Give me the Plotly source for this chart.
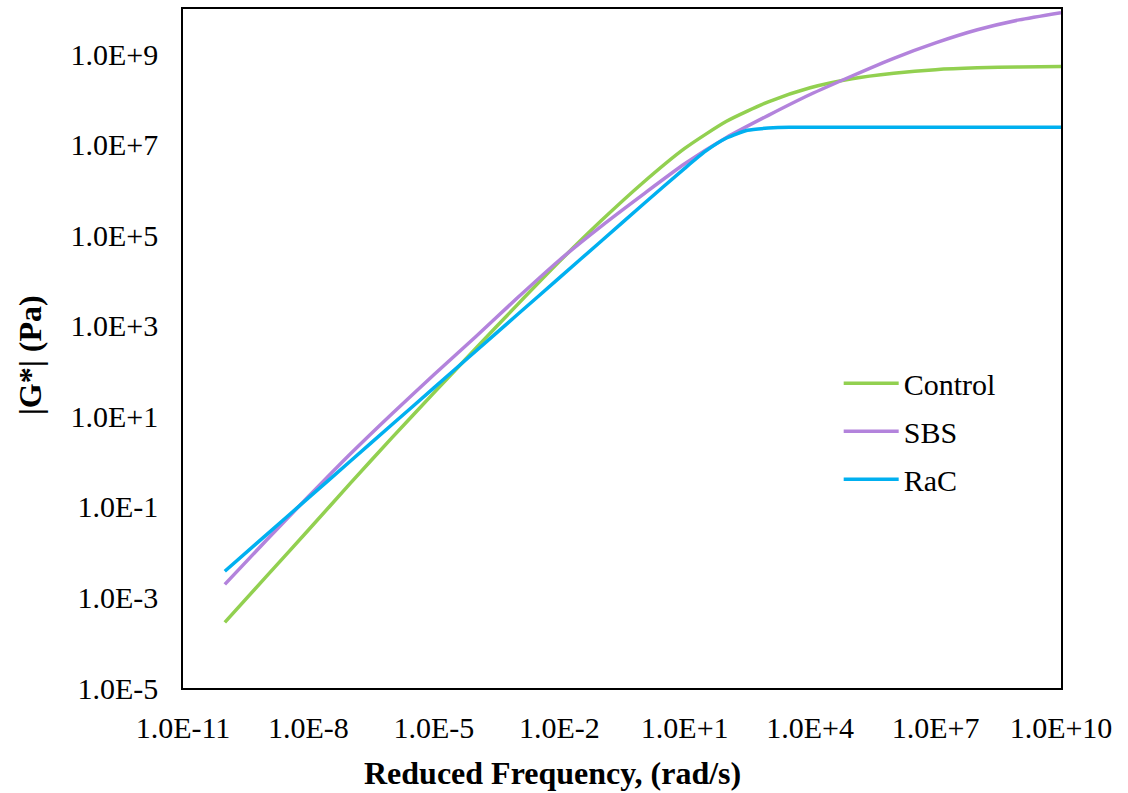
import plotly.graph_objects as go

# Reduced frequency (rad/s)
freq = [1e-10, 1e-9, 1e-8, 1e-7, 1e-6, 1e-5, 1e-4, 1e-3, 1e-2, 1e-1, 1e0,
        1e1, 1e2, 1e3, 1e4, 1e5, 1e6, 1e7, 1e8, 1e9, 1e10]
freq_rac = [1e-10, 1e-9, 1e-8, 1e-7, 1e-6, 1e-5, 1e-4, 1e-3, 1e-2, 1e-1, 1e0,
            1e1, 3.16e1, 1e2, 3.16e2, 1e3, 3.16e3, 1e4, 1e5, 1e6, 1e7, 1e8, 1e9, 1e10]

# |G*| (Pa)
g_control = [2.82e-4, 2.95e-3, 3.09e-2, 0.331, 3.39, 33.1, 316, 2951, 2.63e4, 2.09e5, 1.45e6,
             8.32e6, 3.31e7, 8.91e7, 1.82e8, 2.88e8, 3.80e8, 4.57e8, 5.01e8, 5.25e8, 5.37e8]
g_sbs = [1.95e-3, 1.86e-2, 0.170, 1.48, 11.5, 83.2, 575, 4169, 2.82e4, 1.58e5, 7.94e5,
         3.80e6, 1.45e7, 4.47e7, 1.29e8, 3.31e8, 8.13e8, 1.78e9, 3.47e9, 5.75e9, 8.32e9]
g_rac = [3.80e-3, 2.45e-2, 0.158, 1.02, 6.61, 42.7, 275, 1778, 1.15e4, 7.41e4, 4.79e5,
         3.02e6, 7.24e6, 1.41e7, 2.09e7, 2.34e7, 2.45e7, 2.45e7, 2.45e7, 2.45e7, 2.45e7,
         2.45e7, 2.45e7, 2.45e7]

x_tickvals = [1e-11, 1e-8, 1e-5, 1e-2, 1e1, 1e4, 1e7, 1e10]
x_ticktext = ["1.0E-11", "1.0E-8", "1.0E-5", "1.0E-2", "1.0E+1", "1.0E+4", "1.0E+7", "1.0E+10"]
y_tickvals = [1e-5, 1e-3, 1e-1, 1e1, 1e3, 1e5, 1e7, 1e9]
y_ticktext = ["1.0E-5", "1.0E-3", "1.0E-1", "1.0E+1", "1.0E+3", "1.0E+5", "1.0E+7", "1.0E+9"]

FONT = "Liberation Serif, Times New Roman, serif"

fig = go.Figure()
fig.add_trace(go.Scatter(x=freq, y=g_control, mode="lines", name="Control", legendgroup="a",
                         line=dict(color="#92D050", width=3.5, shape="spline", smoothing=0.6)))
fig.add_trace(go.Scatter(x=freq, y=g_sbs, mode="lines", name="SBS", legendgroup="b",
                         line=dict(color="#B383DC", width=3.5, shape="spline", smoothing=0.6)))
fig.add_trace(go.Scatter(x=freq_rac, y=g_rac, mode="lines", name="RaC", legendgroup="c",
                         line=dict(color="#00B0F0", width=3.5, shape="spline", smoothing=0.6)))

fig.update_layout(
    width=1128, height=793,
    margin=dict(l=183, r=67, t=7, b=105),
    paper_bgcolor="white", plot_bgcolor="white",
    font=dict(family=FONT, size=30, color="black"),
    showlegend=True,
    legend=dict(x=0.7468, y=0.487, xanchor="left", yanchor="top",
                bgcolor="rgba(0,0,0,0)", font=dict(family=FONT, size=30),
                itemwidth=55, tracegroupgap=6),
    xaxis=dict(type="log", range=[-11, 10], tickvals=x_tickvals, ticktext=x_ticktext,
               showgrid=False, zeroline=False, showline=True, linecolor="black",
               linewidth=1.5, mirror=True, ticks="", ticklabelstandoff=12,
               tickfont=dict(family=FONT, size=30)),
    yaxis=dict(type="log", range=[-5, 10], tickvals=y_tickvals, ticktext=y_ticktext,
               showgrid=False, zeroline=False, showline=True, linecolor="black",
               linewidth=1.5, mirror=True, ticks="", ticklabelstandoff=17,
               tickfont=dict(family=FONT, size=30)),
    annotations=[
        dict(text="<b>Reduced Frequency, (rad/s)</b>", xref="paper", yref="paper",
             x=0.4214, y=-0.1248, xanchor="center", yanchor="middle", showarrow=False,
             font=dict(family=FONT, size=32)),
        dict(text="<b>|G*| (Pa)</b>", xref="paper", yref="paper",
             x=-0.1743, y=0.49, xanchor="center", yanchor="middle", showarrow=False,
             textangle=-90, font=dict(family=FONT, size=32)),
    ],
)

fig.write_html("out.html")
